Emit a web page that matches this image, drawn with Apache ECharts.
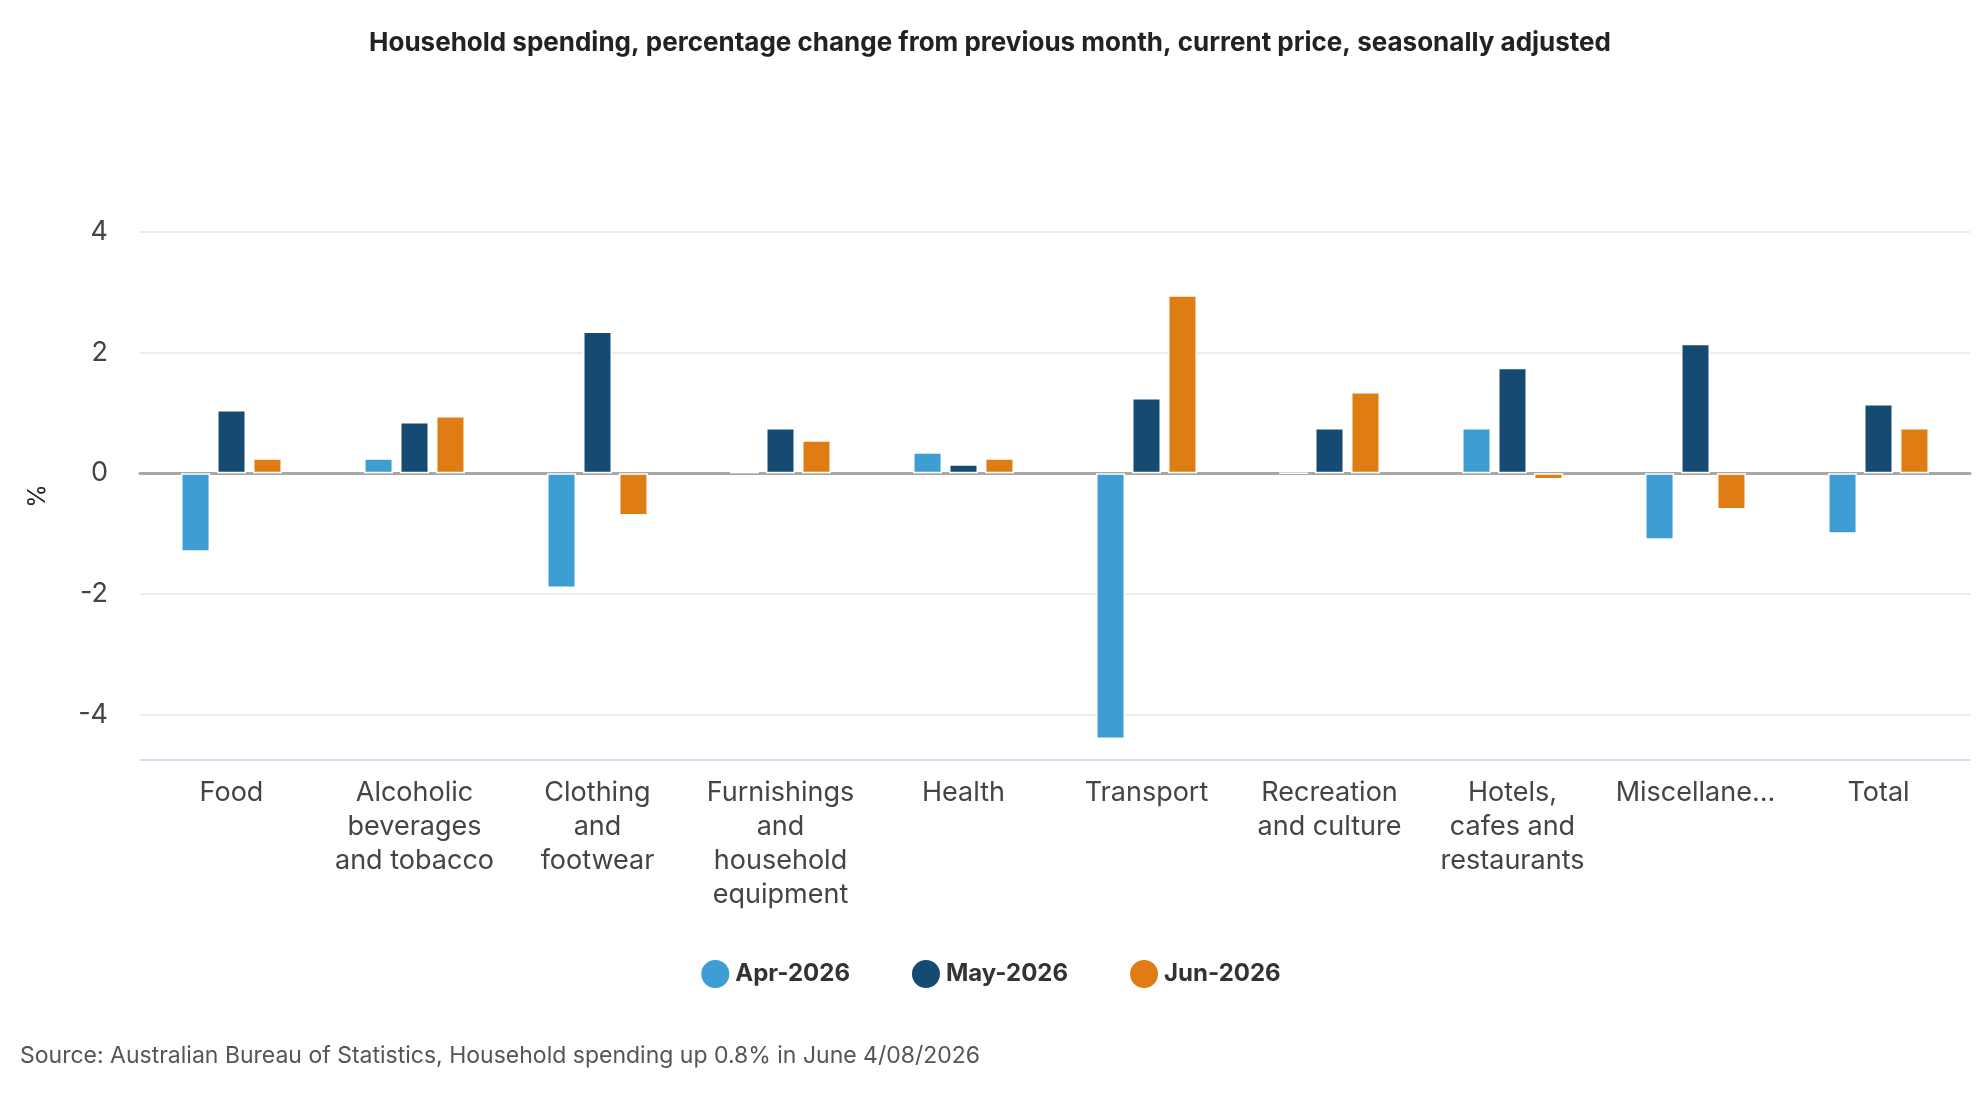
<!DOCTYPE html><html><head><meta charset="utf-8"><script src="https://cdn.jsdelivr.net/npm/echarts@6/dist/echarts.min.js"></script>
<style>html,body{margin:0;padding:0;background:#fff}#c{width:1980px;height:1100px}</style></head><body><div id="c"></div><script>
const categories=["Food","Alcoholic\nbeverages\nand tobacco","Clothing\nand\nfootwear","Furnishings\nand\nhousehold\nequipment","Health","Transport","Recreation\nand culture","Hotels,\ncafes and\nrestaurants","Miscellaneous","Total"];
const apr=[-1.3,0.25,-1.9,0.05,0.35,-4.4,0,0.75,-1.1,-1.0];
const may=[1.05,0.85,2.35,0.75,0.15,1.25,0.75,1.75,2.15,1.15];
const jun=[0.25,0.95,-0.7,0.55,0.25,2.95,1.35,-0.1,-0.6,0.75];
const seriesNames=["Apr-2026","May-2026","Jun-2026"];
const colors=["#3e9dd3","#154a72","#e07c14"];
const yTicks=[-4,-2,0,2,4];
const font='"Inter","Noto Sans",sans-serif';
const chart=echarts.init(document.getElementById('c'));
const mk=(name,data,i)=>({name,type:'bar',data,xAxisIndex:0,barWidth:29,barGap:'24%',itemStyle:{color:colors[i],borderColor:'#fff',borderWidth:1.5},z:3});
chart.setOption({
 animation:false,
 title:{text:"Household spending, percentage change from previous month, current price, seasonally adjusted",left:'center',top:25,textStyle:{fontFamily:font,fontSize:26,fontWeight:'bold',color:'#222'}},
 grid:{left:140,right:10,top:232,bottom:340},
 legend:{bottom:105,left:'center',itemWidth:30,itemHeight:30,itemGap:60,icon:'circle',textStyle:{fontFamily:font,fontSize:24,fontWeight:'bold',color:'#333'}},
 xAxis:[
  {type:'category',data:categories,axisLine:{onZero:true,lineStyle:{color:'#a8a8a8',width:3}},axisTick:{show:false},axisLabel:{show:false},z:2},
  {type:'category',data:categories,position:'bottom',axisLine:{onZero:false,lineStyle:{color:'#ccd6eb',width:1.5}},axisTick:{show:false},
   axisLabel:{interval:0,margin:16,fontFamily:font,fontSize:27,color:'#444',lineHeight:34,width:165,overflow:'truncate',ellipsis:'...'}}
 ],
 yAxis:{type:'value',min:-4.75,max:4,name:'%',nameLocation:'middle',nameRotate:90,nameGap:90,nameTextStyle:{fontFamily:font,fontSize:24,color:'#222'},
  axisLine:{show:false},axisTick:{show:false,customValues:yTicks},
  axisLabel:{customValues:yTicks,fontFamily:font,fontSize:27,color:'#444',margin:32},
  splitLine:{lineStyle:{color:'#e6e6e6',width:1.5}}},
 series:[mk(seriesNames[0],apr,0),mk(seriesNames[1],may,1),mk(seriesNames[2],jun,2)],
 graphic:[{type:'text',left:20,top:1045,style:{text:"Source: Australian Bureau of Statistics, Household spending up 0.8% in June 4/08/2026",fontFamily:font,fontSize:23,fill:'#555'}}]
});
</script></body></html>
